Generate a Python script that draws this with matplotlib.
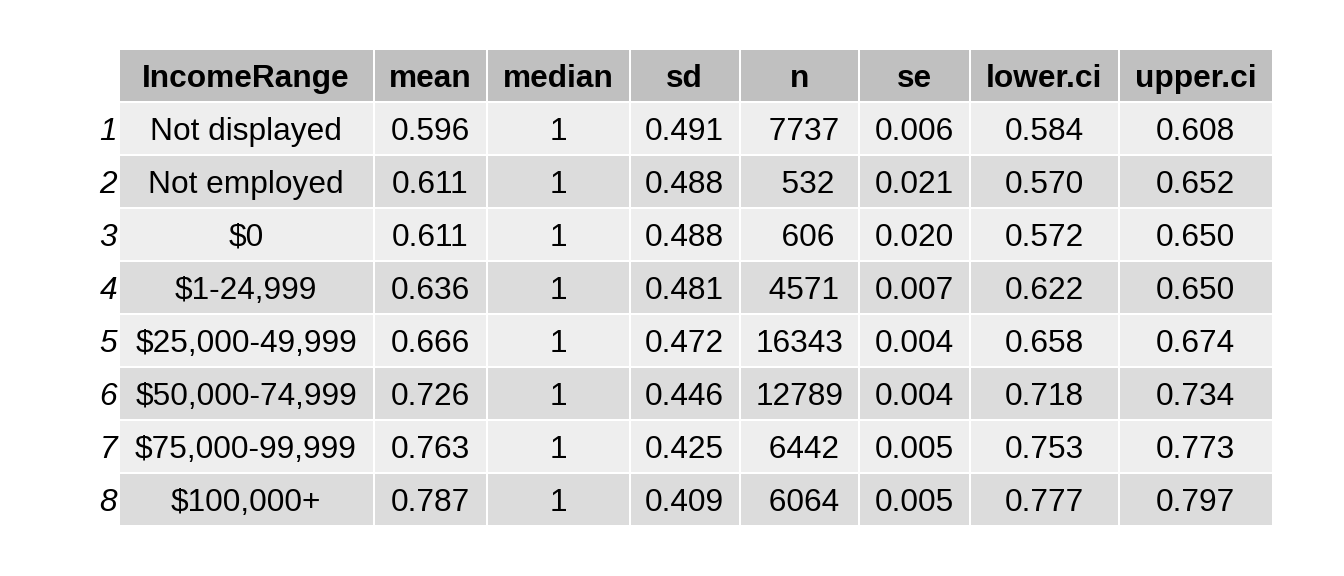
import matplotlib
matplotlib.use("Agg")
import matplotlib.pyplot as plt
from matplotlib.patches import Rectangle

# table data
columns = ["IncomeRange", "mean", "median", "sd", "n", "se", "lower.ci", "upper.ci"]
income_range = ["Not displayed", "Not employed", "$0", "$1-24,999",
                "$25,000-49,999", "$50,000-74,999", "$75,000-99,999", "$100,000+"]
mean = [0.596, 0.611, 0.611, 0.636, 0.666, 0.726, 0.763, 0.787]
median = [1, 1, 1, 1, 1, 1, 1, 1]
sd = [0.491, 0.488, 0.488, 0.481, 0.472, 0.446, 0.425, 0.409]
n = [7737, 532, 606, 4571, 16343, 12789, 6442, 6064]
se = [0.006, 0.021, 0.020, 0.007, 0.004, 0.004, 0.005, 0.005]
lower_ci = [0.584, 0.570, 0.572, 0.622, 0.658, 0.718, 0.753, 0.777]
upper_ci = [0.608, 0.652, 0.650, 0.650, 0.674, 0.734, 0.773, 0.797]

# layout in pixels
W, H = 1344, 576
col_edges = [118.5, 373.5, 486.5, 629.5, 739.5, 859, 969.5, 1118.5, 1273]
top, row_h = 49, 53
head_fill = "#c0c0c0"
row_fills = ["#eeeeee", "#dcdcdc"]
fs = 22.8
font = "Liberation Sans"

cells = [
    income_range,
    [f"{v:.3f}" for v in mean],
    [str(v) for v in median],
    [f"{v:.3f}" for v in sd],
    [str(v).rjust(5) for v in n],
    [f"{v:.3f}" for v in se],
    [f"{v:.3f}" for v in lower_ci],
    [f"{v:.3f}" for v in upper_ci],
]

fig = plt.figure(figsize=(W / 100, H / 100), dpi=100)
ax = fig.add_axes([0, 0, 1, 1])
ax.set_xlim(0, W)
ax.set_ylim(H, 0)
ax.axis("off")

lw = 2 * 72 / 100

# header
for j, name in enumerate(columns):
    x0, x1 = col_edges[j], col_edges[j + 1]
    ax.add_patch(Rectangle((x0, top), x1 - x0, row_h, facecolor=head_fill,
                           edgecolor="white", linewidth=lw))
    ax.text((x0 + x1) / 2, top + row_h / 2, name, ha="center", va="center_baseline",
            fontsize=fs, fontweight="bold", family=font, color="black")

# body
for i in range(len(income_range)):
    y0 = top + (i + 1) * row_h
    ax.text(117, y0 + row_h / 2, str(i + 1), ha="right", va="center_baseline",
            fontsize=fs, fontstyle="italic", family=font, color="black")
    for j in range(len(columns)):
        x0, x1 = col_edges[j], col_edges[j + 1]
        ax.add_patch(Rectangle((x0, y0), x1 - x0, row_h, facecolor=row_fills[i % 2],
                               edgecolor="white", linewidth=lw))
        ax.text((x0 + x1) / 2, y0 + row_h / 2, cells[j][i], ha="center",
                va="center_baseline", fontsize=fs, family=font, color="black")

fig.savefig("out.png", dpi=100, facecolor="white")
